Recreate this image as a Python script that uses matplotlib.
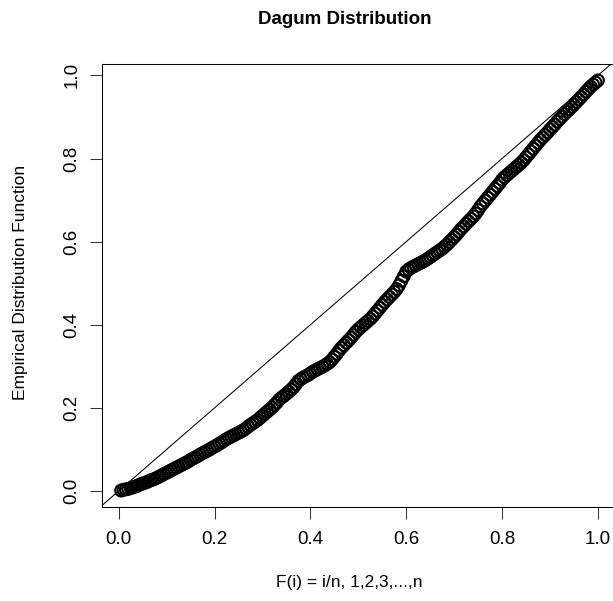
import numpy as np
import matplotlib
matplotlib.use("Agg")
import matplotlib.pyplot as plt

plt.rcParams['font.family'] = ['Liberation Sans', 'DejaVu Sans']

title = "Dagum Distribution"
xlabel = "F(i) = i/n, 1,2,3,...,n"
ylabel = "Empirical Distribution Function"
ticks = [0.0, 0.2, 0.4, 0.6, 0.8, 1.0]
tick_labels = ["0.0", "0.2", "0.4", "0.6", "0.8", "1.0"]

# fitted CDF evaluated at the ordered sample
edf = [
    0.001, 0.003, 0.004, 0.005, 0.007, 0.009, 0.011, 0.013, 0.016, 0.018,
    0.020, 0.022, 0.025, 0.027, 0.029, 0.032, 0.035, 0.038, 0.041, 0.044,
    0.047, 0.050, 0.053, 0.056, 0.059, 0.062, 0.065, 0.068, 0.071, 0.075,
    0.078, 0.081, 0.084, 0.088, 0.091, 0.094, 0.097, 0.100, 0.104, 0.107,
    0.110, 0.114, 0.117, 0.121, 0.125, 0.128, 0.131, 0.134, 0.137, 0.140,
    0.143, 0.146, 0.150, 0.155, 0.159, 0.163, 0.167, 0.171, 0.176, 0.181,
    0.186, 0.191, 0.196, 0.201, 0.207, 0.213, 0.220, 0.225, 0.229, 0.234,
    0.239, 0.244, 0.250, 0.257, 0.265, 0.269, 0.273, 0.276, 0.279, 0.283,
    0.287, 0.290, 0.293, 0.296, 0.299, 0.302, 0.306, 0.310, 0.316, 0.323,
    0.330, 0.338, 0.345, 0.351, 0.357, 0.363, 0.369, 0.376, 0.383, 0.389,
    0.394, 0.399, 0.404, 0.409, 0.414, 0.420, 0.427, 0.434, 0.441, 0.448,
    0.455, 0.461, 0.467, 0.473, 0.479, 0.486, 0.495, 0.506, 0.517, 0.528,
    0.533, 0.537, 0.540, 0.543, 0.546, 0.549, 0.552, 0.555, 0.559, 0.563,
    0.567, 0.571, 0.575, 0.579, 0.583, 0.588, 0.593, 0.599, 0.605, 0.611,
    0.617, 0.624, 0.631, 0.637, 0.643, 0.649, 0.655, 0.661, 0.668, 0.676,
    0.685, 0.692, 0.699, 0.706, 0.713, 0.720, 0.727, 0.734, 0.741, 0.749,
    0.755, 0.760, 0.765, 0.770, 0.775, 0.780, 0.785, 0.790, 0.796, 0.803,
    0.810, 0.817, 0.824, 0.831, 0.838, 0.845, 0.851, 0.857, 0.863, 0.870,
    0.876, 0.882, 0.889, 0.895, 0.901, 0.907, 0.913, 0.918, 0.924, 0.930,
    0.936, 0.942, 0.948, 0.954, 0.961, 0.967, 0.973, 0.978, 0.983, 0.988,
]

n = len(edf)
fi = np.arange(1, n + 1) / n

W, H = 613, 601
dpi = 100
fig = plt.figure(figsize=(W / dpi, H / dpi), dpi=dpi)
fig.patch.set_facecolor("white")

# plot region in pixels: left 102, right 617, top 64, bottom 507
L, R, T, B = 102, 617, 64, 507
ax = fig.add_axes([L / W, 1 - B / H, (R - L) / W, (B - T) / H])

# R-style 4% padding around the data range
xr = fi.max() - fi.min()
yr = max(edf) - min(edf)
ax.set_xlim(fi.min() - 0.04 * xr, fi.max() + 0.04 * xr)
ax.set_ylim(min(edf) - 0.04 * yr, max(edf) + 0.04 * yr)

ax.scatter(fi, edf, s=72, facecolors="none", edgecolors="black", linewidths=1.5, zorder=3)
ax.axline((0, 0), slope=1, color="black", lw=0.75, zorder=2)

ax.set_xticks(ticks)
ax.set_xticklabels(tick_labels)
ax.set_yticks(ticks)
ax.set_yticklabels(tick_labels, rotation=90, va="center")
ax.tick_params(axis="both", direction="out", length=8.6, width=0.75, labelsize=13.5, color="#333333")
ax.tick_params(axis="x", pad=9)
ax.tick_params(axis="y", pad=7)
for s in ax.spines.values():
    s.set_linewidth(0.75)

fig.text(345 / W, 1 - 19 / H, title, ha="center", va="center", fontsize=13.5, fontweight="bold")
fig.text(349 / W, 1 - 583 / H, xlabel, ha="center", va="center", fontsize=12.5)
fig.text(21 / W, 1 - 282 / H, ylabel, ha="center", va="center", fontsize=12.5, rotation=90)

fig.savefig("out.png", dpi=dpi)
